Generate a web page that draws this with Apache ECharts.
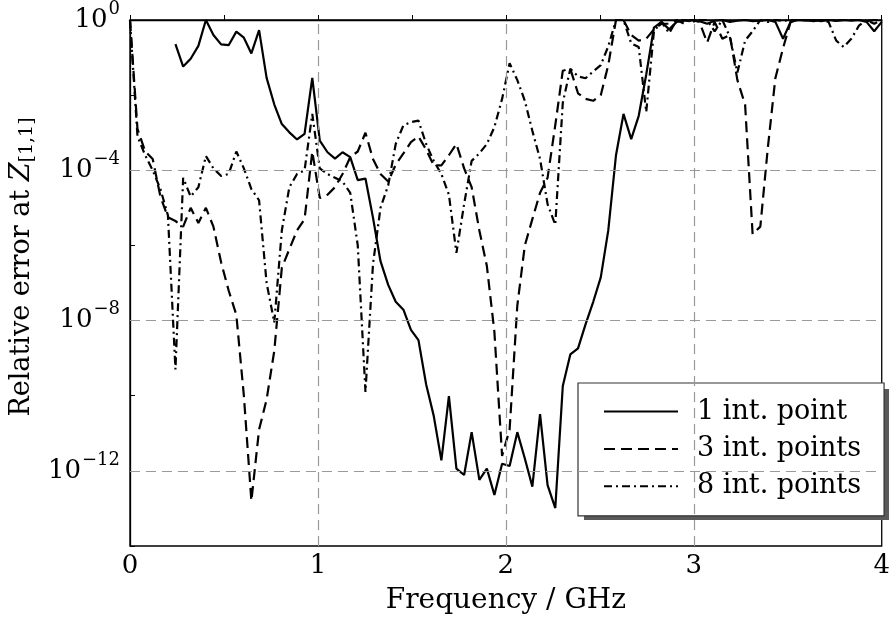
<!DOCTYPE html>
<html>
<head>
<meta charset="utf-8">
<script src="https://cdn.jsdelivr.net/npm/echarts@6/dist/echarts.min.js"></script>
<style>
html,body{margin:0;padding:0;background:#fff;}
#chart{width:893px;height:632px;}
</style>
</head>
<body>
<div id="chart"></div>
<script>
// Frequency samples (GHz)
var freqGHz = [0,0.040,0.081,0.121,0.162,0.202,0.242,0.283,0.323,0.364,0.404,0.444,0.485,0.525,0.566,0.606,0.646,0.687,0.727,0.768,
0.808,0.848,0.889,0.929,0.970,1.010,1.051,1.091,1.131,1.172,1.212,1.253,1.293,1.333,1.374,1.414,1.455,1.495,1.535,1.576,
1.616,1.657,1.697,1.737,1.778,1.818,1.859,1.899,1.939,1.980,2.020,2.061,2.101,2.141,2.182,2.222,2.263,2.303,2.343,2.384,
2.424,2.465,2.505,2.545,2.586,2.626,2.667,2.707,2.747,2.788,2.828,2.869,2.909,2.949,2.990,3.030,3.071,3.111,3.152,3.192,
3.232,3.273,3.313,3.354,3.394,3.434,3.475,3.515,3.556,3.596,3.636,3.677,3.717,3.758,3.798,3.838,3.879,3.919,3.960,4.000];

// log10 of relative error, "1 int. point"
var err1Exp = [null,null,null,null,null,null,-0.64,-1.24,-1.03,-0.69,
0,-0.40,-0.65,-0.67,-0.31,-0.47,-0.89,-0.27,-1.54,-2.25,
-2.77,-2.99,-3.18,-3.03,-1.54,-3.21,-3.52,-3.69,-3.52,-3.65,
-4.26,-4.22,-5.26,-6.42,-7.05,-7.5,-7.71,-8.25,-8.52,-9.7,
-10.53,-11.72,-10.01,-11.94,-12.11,-10.97,-12.24,-11.94,-12.64,-11.81,
-11.87,-10.97,-11.67,-12.42,-10.49,-12.38,-12.99,-9.74,-8.9,-8.74,
-8.1,-7.5,-6.85,-5.6,-3.6,-2.5,-3.17,-2.55,-1.45,-0.2,
-0.05,-0.25,-0.05,-0.02,0,-0.03,-0.1,-0.02,0,-0.05,
-0.02,0,-0.03,-0.02,0,-0.05,-0.5,-0.05,0,-0.02,
0,-0.03,0,-0.02,0,-0.02,0,-0.05,-0.3,-0.05];

// log10 of relative error, "3 int. points"
var err3Exp = [0,-2.9,-3.5,-3.7,-4.7,-5.25,-5.35,-5.5,-5.0,-5.4,
-5.0,-5.5,-6.45,-7.2,-7.85,-10.0,-12.8,-10.9,-10.1,-8.8,
-6.6,-6.1,-5.6,-5.3,-3.5,-4.74,-4.65,-4.45,-4.1,-3.65,
-3.5,-3.0,-3.7,-4.1,-4.3,-3.85,-3.55,-3.25,-3.1,-3.45,
-3.87,-3.87,-3.6,-3.3,-3.95,-4.45,-5.6,-6.55,-8.3,-11.6,
-10.9,-7.6,-6.0,-5.3,-4.6,-4.2,-2.8,-1.35,-1.3,-1.95,
-2.1,-2.15,-2.0,-1.2,0,0,-0.4,-0.55,-0.5,-0.25,
-0.1,-0.1,0,-0.1,0,-0.05,-0.6,-0.05,-0.5,-0.4,
-1.6,-2.25,-5.7,-5.5,-3.4,-1.55,-0.75,-0.05,0,0,
-0.02,0,0,-0.02,0,0,0,-0.03,0,0];

// log10 of relative error, "8 int. points"
var err8Exp = [0,-3.1,-3.6,-4.0,-4.5,-5.2,-9.3,-4.2,-4.7,-4.45,
-3.62,-3.95,-4.15,-4.1,-3.5,-3.95,-4.5,-4.8,-7.0,-8.05,
-5.6,-4.45,-4.1,-4.0,-2.5,-3.95,-4.1,-4.2,-4.3,-4.6,
-6.0,-9.9,-6.5,-5.0,-4.4,-3.3,-2.8,-2.72,-2.68,-3.3,
-3.75,-4.1,-4.65,-6.2,-4.9,-3.75,-3.55,-3.3,-2.85,-2.1,
-1.15,-1.6,-2.15,-2.95,-3.7,-4.9,-5.45,-2.2,-1.3,-1.5,
-1.55,-1.37,-1.2,-0.7,0,0,-0.62,-0.72,-2.45,-0.3,
-0.05,-0.35,0,0,-0.05,0,0,-0.3,0,-0.45,
-1.4,-0.55,-0.3,0,-0.05,0,-0.02,0,0,0,
-0.03,0,-0.05,-0.55,-0.72,-0.5,-0.15,0,-0.1,0];

var seriesNames = ['1 int. point', '3 int. points', '8 int. points'];
var xTickLabels = [0, 1, 2, 3, 4];
var yTickExponents = [0, -4, -8, -12];
var gridX = [1, 2, 3];
var gridY = [-4, -8, -12];

function pairs(ys) {
  return ys.map(function (v, i) { return [freqGHz[i], v]; });
}

var FONT = 'DejaVu Serif';
var chart = echarts.init(document.getElementById('chart'), null, {renderer: 'canvas'});

var LEG = { left: 578, top: 383, width: 305, height: 131 };

var option = {
  animation: false,
  backgroundColor: '#fff',
  grid: {
    left: 127, top: 13, width: 756, height: 533,
    show: true, borderColor: '#000', borderWidth: 1.3, backgroundColor: 'transparent'
  },
  graphic: [{
    type: 'rect', z: 4, silent: true,
    shape: { x: LEG.left + 6, y: LEG.top + 6, width: LEG.width, height: LEG.height },
    style: { fill: '#5a5a5a' }
  }],
  legend: {
    data: seriesNames,
    orient: 'vertical',
    left: LEG.left,
    top: LEG.top,
    z: 5,
    padding: [15, 23, 16, 25],
    itemWidth: 74,
    itemHeight: 20,
    itemGap: 10.4,
    backgroundColor: '#fff',
    borderColor: '#333',
    borderWidth: 1.2,
    borderRadius: 0,
    itemStyle: { opacity: 0 },
    textStyle: { fontFamily: FONT, fontSize: 27, color: '#000', padding: [0, 0, 0, 14] }
  },
  xAxis: {
    type: 'value', min: 0, max: 4, interval: 0.5,
    name: 'Frequency / GHz', nameLocation: 'middle', nameGap: 41,
    nameTextStyle: { fontFamily: FONT, fontSize: 28, color: '#000' },
    axisLine: { show: true, lineStyle: { color: '#000', width: 1.3 } },
    axisTick: { show: true, inside: true, length: 5, lineStyle: { color: '#000', width: 1 } },
    axisLabel: {
      margin: 7, fontFamily: FONT, fontSize: 26, color: '#000',
      formatter: function (v) { return xTickLabels.indexOf(v) >= 0 ? String(v) : ''; }
    },
    splitLine: { show: false }
  },
  yAxis: {
    type: 'value', min: -14, max: 0, interval: 2,
    name: '{t|Relative error at }{z|Z}{s|[1,1]}',
    nameLocation: 'middle', nameGap: 90, nameRotate: 90,
    nameTextStyle: {
      fontFamily: FONT, fontSize: 27, color: '#000', padding: [0, 0, 0, 32],
      rich: {
        t: { fontFamily: FONT, fontSize: 27, color: '#000' },
        z: { fontFamily: FONT, fontSize: 27, fontStyle: 'italic', color: '#000' },
        s: { fontFamily: FONT, fontSize: 19, color: '#000', padding: [12, 0, 0, 0] }
      }
    },
    axisLine: { show: true, lineStyle: { color: '#000', width: 1.3 } },
    axisTick: { show: true, inside: true, length: 5, lineStyle: { color: '#000', width: 1 } },
    axisLabel: {
      margin: 10, color: '#000',
      formatter: function (v) {
        if (yTickExponents.indexOf(v) < 0) return '';
        return '{b|10}{e|' + (v === 0 ? '0' : '\u2212' + (-v)) + '}';
      },
      rich: {
        b: { fontFamily: FONT, fontSize: 26, color: '#000' },
        e: { fontFamily: FONT, fontSize: 18, color: '#000', padding: [0, 0, 22, 1] }
      }
    },
    splitLine: { show: false }
  },
  series: [
    {
      type: 'line', name: 'grid', data: [], z: 1, silent: true,
      markLine: {
        silent: true, symbol: ['none', 'none'], label: { show: false },
        lineStyle: { type: [10, 6], color: '#999', width: 1.2 },
        data: gridX.map(function (x) { return { xAxis: x }; })
          .concat(gridY.map(function (y) { return { yAxis: y }; }))
      }
    },
    {
      type: 'line', name: seriesNames[0], data: pairs(err1Exp), z: 3,
      symbol: 'none', showSymbol: false, connectNulls: false,
      lineStyle: { color: '#000', width: 2.2, type: 'solid' },
      itemStyle: { color: '#000' }
    },
    {
      type: 'line', name: seriesNames[1], data: pairs(err3Exp), z: 3,
      symbol: 'none', showSymbol: false,
      lineStyle: { color: '#000', width: 2.2, type: [11, 6] },
      itemStyle: { color: '#000' }
    },
    {
      type: 'line', name: seriesNames[2], data: pairs(err8Exp), z: 3,
      symbol: 'none', showSymbol: false,
      lineStyle: { color: '#000', width: 2.2, type: [8, 4, 2, 4] },
      itemStyle: { color: '#000' }
    }
  ]
};
chart.setOption(option);
</script>
</body>
</html>
